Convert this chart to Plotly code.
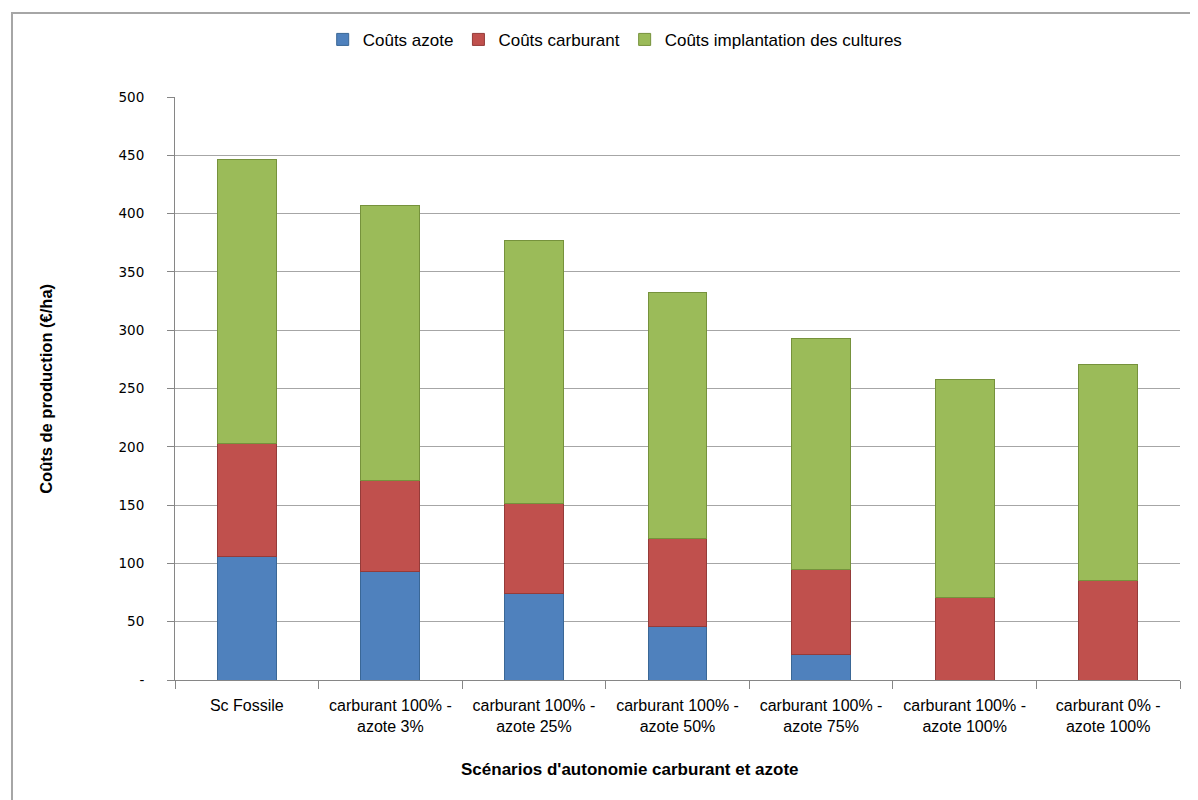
import plotly.graph_objects as go

categories = ["Sc Fossile", "carburant 100% -<br>azote 3%", "carburant 100% -<br>azote 25%",
              "carburant 100% -<br>azote 50%", "carburant 100% -<br>azote 75%",
              "carburant 100% -<br>azote 100%", "carburant 0% -<br>azote 100%"]
azote = [105.5, 93, 74, 46, 21.5, 0, 0]
carburant = [97.5, 78.5, 77.5, 75.5, 73, 71, 85]
implantation = [243, 235.5, 225.5, 210.5, 198, 186.5, 186]
ytickvals = [0, 50, 100, 150, 200, 250, 300, 350, 400, 450, 500]
yticktext = ["-", "50", "100", "150", "200", "250", "300", "350", "400", "450", "500"]

series = [
    ("Coûts azote", azote, "#4F81BD", "#3A6796"),
    ("Coûts carburant", carburant, "#C0504D", "#953B39"),
    ("Coûts implantation des cultures", implantation, "#9BBB59", "#76923C"),
]

fig = go.Figure()
for name, vals, col, line in series:
    fig.add_trace(go.Bar(x=categories, y=vals, name=name,
                         marker=dict(color=col, line=dict(color=line, width=1))))

font_main = "Liberation Sans Narrow, Arial Narrow, Liberation Sans, sans-serif"

fig.update_layout(
    barmode="stack",
    bargap=0.59,
    width=1190, height=792,
    margin=dict(l=167, r=18, t=89, b=120),
    paper_bgcolor="white", plot_bgcolor="white",
    font=dict(family=font_main, size=16, color="black"),
    showlegend=True,
    legend=dict(orientation="h", x=0.438, xanchor="center", y=1.098, yanchor="middle",
                font=dict(family=font_main, size=17), traceorder="normal"),
    xaxis=dict(showline=True, linecolor="#868686", linewidth=1,
               ticks="outside", tickson="boundaries", ticklen=8, tickcolor="#868686",
               tickfont=dict(family=font_main, size=16), ticklabelstandoff=11,
               showgrid=False),
    yaxis=dict(range=[0, 500], tickvals=ytickvals, ticktext=yticktext,
               showline=True, linecolor="#868686", linewidth=1,
               ticks="outside", ticklen=7, tickcolor="#868686",
               tickfont=dict(family="DejaVu Sans, Verdana, sans-serif", size=13.5),
               ticklabelstandoff=20,
               showgrid=True, gridcolor="#A6A6A6", gridwidth=1, zeroline=False),
    annotations=[
        dict(text="<b>Coûts de production (€/ha)</b>", xref="paper", yref="paper",
             x=-0.129, y=0.5, textangle=-90, showarrow=False,
             font=dict(family=font_main, size=16.5), xanchor="center", yanchor="middle"),
        dict(text="<b>Scénarios d'autonomie carburant et azote</b>", xref="paper", yref="paper",
             x=0.453, y=-0.154, showarrow=False,
             font=dict(family=font_main, size=17), xanchor="center", yanchor="middle"),
    ],
    shapes=[dict(type="rect", xref="paper", yref="paper", x0=-0.1622, x1=1.2,
                 y0=-0.3, y1=1.144, line=dict(color="#A6A6A6", width=2), layer="below")],
)

fig.write_html("out.html")
